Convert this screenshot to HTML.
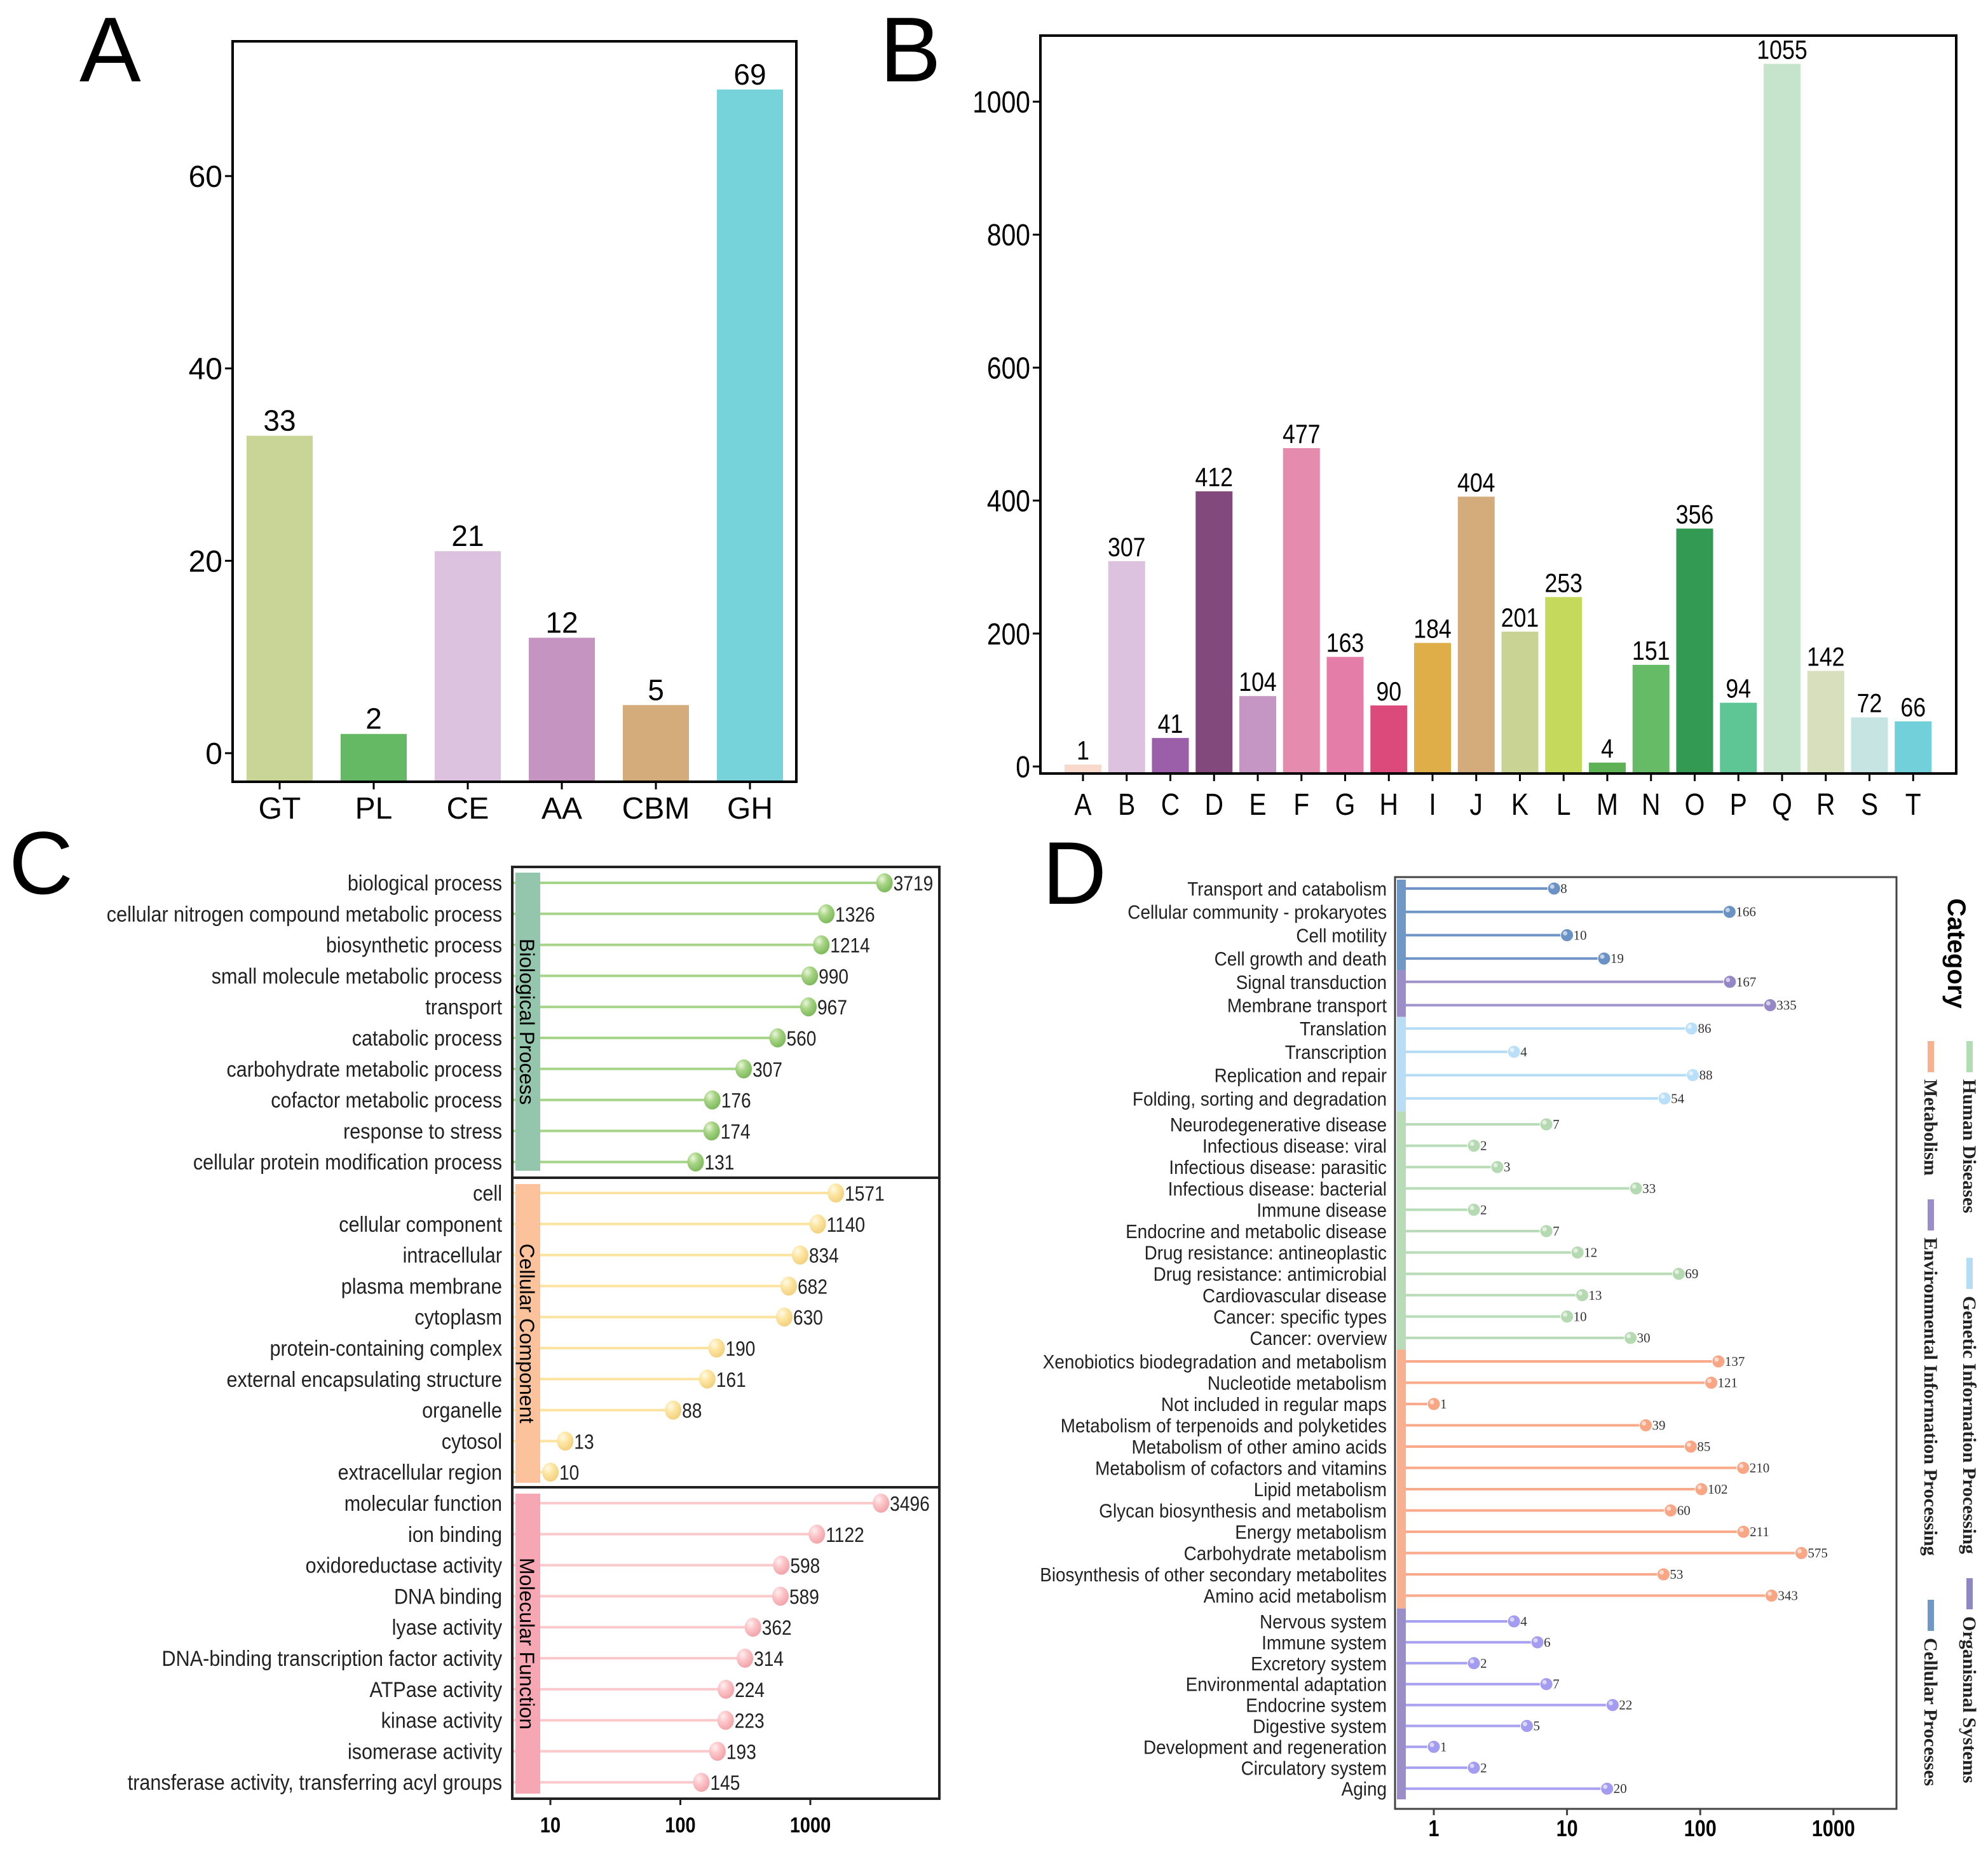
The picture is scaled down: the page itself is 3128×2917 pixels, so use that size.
<!DOCTYPE html>
<html><head><meta charset="utf-8"><style>
html,body{margin:0;padding:0;background:#fff;}
svg{display:block;}
</style></head><body>
<svg id="fig" xmlns="http://www.w3.org/2000/svg" width="3128" height="2917" viewBox="0 0 3128 2917">
<defs>
<radialGradient id="gBP" cx="35%" cy="30%" r="70%"><stop offset="0" stop-color="#eaf6dc"/><stop offset="0.45" stop-color="#a8d585"/><stop offset="1" stop-color="#7fba5e"/></radialGradient>
<radialGradient id="gCC" cx="35%" cy="30%" r="70%"><stop offset="0" stop-color="#fffbe8"/><stop offset="0.45" stop-color="#fde6a3"/><stop offset="1" stop-color="#f3d180"/></radialGradient>
<radialGradient id="gMF" cx="35%" cy="30%" r="70%"><stop offset="0" stop-color="#fff0f1"/><stop offset="0.45" stop-color="#fcc6c9"/><stop offset="1" stop-color="#f2a5aa"/></radialGradient>
</defs>
<text x="125" y="128" font-family="Liberation Sans, sans-serif" font-size="145">A</text>
<text x="1384" y="128" font-family="Liberation Sans, sans-serif" font-size="145">B</text>
<text x="14" y="1406" font-family="Liberation Sans, sans-serif" font-size="140">C</text>
<text x="1640" y="1422" font-family="Liberation Sans, sans-serif" font-size="140">D</text>
<g id="pA"></g>
<g id="pB"></g>
<g id="pC"></g>
<g id="pD"></g>
</svg>
<script>
// ---- Panel A data ----
const aCats = ["GT","PL","CE","AA","CBM","GH"];
const aVals = [33,2,21,12,5,69];
const aTicks = [0,20,40,60];
const aColors = ["#c8d596","#66b964","#dcc2de","#c594c0","#d4ab7b","#75d3d9"];
// ---- Panel B data ----
const bCats = ["A","B","C","D","E","F","G","H","I","J","K","L","M","N","O","P","Q","R","S","T"];
const bVals = [1,307,41,412,104,477,163,90,184,404,201,253,4,151,356,94,1055,142,72,66];
const bTicks = [0,200,400,600,800,1000];
const bColors = ["#f8d9cc","#dcc2de","#9b5ea8","#82497c","#c595c4","#e58bae","#e47ea8","#dc4a7b","#dfae48","#d4ab7b","#c9d494","#c5da5c","#5fb155","#66bb66","#339a53","#5ec595","#c5e4cb","#d8dfbc","#c6e4e1","#71d0d9"];
// ---- Panel C data ----
const cBP = ["biological process","cellular nitrogen compound metabolic process","biosynthetic process","small molecule metabolic process","transport","catabolic process","carbohydrate metabolic process","cofactor metabolic process","response to stress","cellular protein modification process"];
const cBPv = [3719,1326,1214,990,967,560,307,176,174,131];
const cCC = ["cell","cellular component","intracellular","plasma membrane","cytoplasm","protein-containing complex","external encapsulating structure","organelle","cytosol","extracellular region"];
const cCCv = [1571,1140,834,682,630,190,161,88,13,10];
const cMF = ["molecular function","ion binding","oxidoreductase activity","DNA binding","lyase activity","DNA-binding transcription factor activity","ATPase activity","kinase activity","isomerase activity","transferase activity, transferring acyl groups"];
const cMFv = [3496,1122,598,589,362,314,224,223,193,145];
const cTicks = [10,100,1000];
// ---- Panel D data ----
const dLabels = ["Transport and catabolism","Cellular community - prokaryotes","Cell motility","Cell growth and death","Signal transduction","Membrane transport","Translation","Transcription","Replication and repair","Folding, sorting and degradation",
"Neurodegenerative disease","Infectious disease: viral","Infectious disease: parasitic","Infectious disease: bacterial","Immune disease","Endocrine and metabolic disease","Drug resistance: antineoplastic","Drug resistance: antimicrobial","Cardiovascular disease","Cancer: specific types","Cancer: overview",
"Xenobiotics biodegradation and metabolism","Nucleotide metabolism","Not included in regular maps","Metabolism of terpenoids and polyketides","Metabolism of other amino acids","Metabolism of cofactors and vitamins","Lipid metabolism","Glycan biosynthesis and metabolism","Energy metabolism","Carbohydrate metabolism","Biosynthesis of other secondary metabolites","Amino acid metabolism",
"Nervous system","Immune system","Excretory system","Environmental adaptation","Endocrine system","Digestive system","Development and regeneration","Circulatory system","Aging"];
const dVals = [8,166,10,19,167,335,86,4,88,54, 7,2,3,33,2,7,12,69,13,10,30, 137,121,1,39,85,210,102,60,211,575,53,343, 4,6,2,7,22,5,1,2,20];
const dCat = ["CP","CP","CP","CP","EIP","EIP","GIP","GIP","GIP","GIP","HD","HD","HD","HD","HD","HD","HD","HD","HD","HD","HD","M","M","M","M","M","M","M","M","M","M","M","M","OS","OS","OS","OS","OS","OS","OS","OS","OS"];
const dTicks = [1,10,100,1000];

const NS="http://www.w3.org/2000/svg";
function mk(parent,tag,attrs,txt){const e=document.createElementNS(NS,tag);for(const k in attrs)e.setAttribute(k,attrs[k]);if(txt!==undefined)e.textContent=txt;parent.appendChild(e);return e;}
const SANS="Liberation Sans, DejaVu Sans, sans-serif";
const SERIF="Liberation Serif, DejaVu Serif, serif";

// ================= Panel A =================
(function(){
 const g=document.getElementById('pA');
 const L=366,T=65,R=1253,B=1230, y0=1185, ppu=(1185-277)/60;
 const y=v=>y0-v*ppu, x=i=>440+i*148, bw=104;
 aVals.forEach((v,i)=>{
  const r=mk(g,'rect',{x:x(i)-bw/2,y:y(v),width:bw,height:B-y(v),fill:aColors[i]});
  
  
  const t=mk(g,'text',{x:x(i),y:y(v)-8,'text-anchor':'middle','font-family':SANS,'font-size':46},String(v));
  
  
  const xl=mk(g,'text',{x:x(i),y:1288,'text-anchor':'middle','font-family':SANS,'font-size':48},aCats[i]);
  
  
  mk(g,'line',{x1:x(i),x2:x(i),y1:B,y2:B+12,stroke:'#000','stroke-width':3});
 });
 aTicks.forEach(v=>{
  mk(g,'line',{x1:L-12,x2:L,y1:y(v),y2:y(v),stroke:'#000','stroke-width':3});
  const t=mk(g,'text',{x:L-16,y:y(v)+17,'text-anchor':'end','font-family':SANS,'font-size':48},String(v));
  
  
 });
 const f=mk(g,'rect',{x:L,y:T,width:R-L,height:B-T,fill:'none',stroke:'#000','stroke-width':4});
 
 
})();

// ================= Panel B =================
(function(){
 const g=document.getElementById('pB');
 const L=1637,T=56,R=3078,B=1217,y0=1206,ppu=(1206-160)/1000;
 const y=v=>y0-v*ppu, x=i=>1704+i*68.75, bw=58;
 bVals.forEach((v,i)=>{
  const r=mk(g,'rect',{x:x(i)-bw/2,y:y(v)-2,width:bw,height:B-y(v)+2,fill:bColors[i]});
  
  
  const t=mk(g,'text',{transform:`translate(${x(i)},${y(v)-10}) scale(0.85,1)`,'text-anchor':'middle','font-family':SANS,'font-size':42},String(v));
  
  
  mk(g,'line',{x1:x(i),x2:x(i),y1:B,y2:B+12,stroke:'#000','stroke-width':3});
  const xl=mk(g,'text',{transform:`translate(${x(i)},1282) scale(0.85,1)`,'text-anchor':'middle','font-family':SANS,'font-size':48},bCats[i]);
  
  
 });
 bTicks.forEach(v=>{
  mk(g,'line',{x1:L-12,x2:L,y1:y(v),y2:y(v),stroke:'#000','stroke-width':3});
  const t=mk(g,'text',{transform:`translate(${L-16},${y(v)+17}) scale(0.85,1)`,'text-anchor':'end','font-family':SANS,'font-size':48},String(v));
  
  
 });
 const f=mk(g,'rect',{x:L,y:T,width:R-L,height:B-T,fill:'none',stroke:'#000','stroke-width':4});
 
 
})();

// ================= Panel C =================
(function(){
 const g=document.getElementById('pC');
 const L=806,T=1364,R=1478,B=2830;
 const x=v=>866+204.5*Math.log10(v/10);
 const row0=1389, step=48.8;
 const groups=[
  {labels:cBP,vals:cBPv,line:'#a6d58a',grad:'url(#gBP)',strip:'#93c6ad',name:'Biological Process',st:1373,en:1842},
  {labels:cCC,vals:cCCv,line:'#fde3a0',grad:'url(#gCC)',strip:'#fcc29c',name:'Cellular Component',st:1863,en:2333},
  {labels:cMF,vals:cMFv,line:'#fbc9cb',grad:'url(#gMF)',strip:'#f7a7b3',name:'Molecular Function',st:2350,en:2822}];
 let idx=0;
 groups.forEach((gr,gi)=>{
  gr.labels.forEach((lab,i)=>{
   const yy=row0+idx*step; const v=gr.vals[i];
   mk(g,'line',{x1:850,x2:x(v),y1:yy,y2:yy,stroke:gr.line,'stroke-width':4});
   mk(g,'line',{x1:L,x2:812,y1:yy,y2:yy,stroke:gr.line,'stroke-width':4});
   const c=mk(g,'ellipse',{cx:x(v),cy:yy,rx:13,ry:15,fill:gr.grad});
   
   
   const vt=mk(g,'text',{transform:`translate(${x(v)+14},${yy+12}) scale(0.88,1)`,'font-family':SANS,'font-size':32,fill:'#222'},String(v));
   
   
   const lt=mk(g,'text',{transform:`translate(790,${yy+12}) scale(0.9,1)`,'text-anchor':'end','font-family':SANS,'font-size':34,fill:'#222'},lab);
   
   
   idx++;
  });
  const s=mk(g,'rect',{x:811,y:gr.st,width:39,height:gr.en-gr.st,fill:gr.strip});
  
  
  const cy=(gr.st+gr.en)/2;
  const st=mk(g,'text',{transform:`translate(818,${cy}) rotate(90)`,'text-anchor':'middle','font-family':SANS,'font-size':32},gr.name);
  
  
 });
 mk(g,'line',{x1:L,x2:R,y1:1853,y2:1853,stroke:'#222','stroke-width':4});
 mk(g,'line',{x1:L,x2:R,y1:2340,y2:2340,stroke:'#222','stroke-width':4});
 const f=mk(g,'rect',{x:L,y:T,width:R-L,height:B-T,fill:'none',stroke:'#222','stroke-width':4});
 
 
 cTicks.forEach(v=>{
  mk(g,'line',{x1:x(v),x2:x(v),y1:B,y2:B+10,stroke:'#222','stroke-width':3});
  const t=mk(g,'text',{transform:`translate(${x(v)},2883) scale(0.85,1)`,'text-anchor':'middle','font-family':SANS,'font-size':34,'font-weight':'bold'},String(v));
  
  
 });
})();

// ================= Panel D =================
(function(){
 const g=document.getElementById('pD');
 const L=2195,T=1380,R=2984,B=2846;
 const x=v=>2256+209.6*Math.log10(v);
 const catStyle={CP:{line:'#6f95c6',ball:'#6a92c4',strip:'#6f98c6'},EIP:{line:'#a093cc',ball:'#9586c6',strip:'#9b8ec8'},GIP:{line:'#b5dcf5',ball:'#b9e0f8',strip:'#b9ddf5'},HD:{line:'#b8dcb8',ball:'#b5d9b0',strip:'#b8dcb8'},M:{line:'#f9aa8a',ball:'#f9a685',strip:'#f9b08f'},OS:{line:'#a8a0f0',ball:'#a39cf0',strip:'#9b8ec8'}};
 const segs=[[0,1398,36.7],[10,1769,33.6],[21,2142,33.5],[33,2551,32.9]];
 const ypos=i=>{let s=segs[0];segs.forEach(q=>{if(i>=q[0])s=q;});return s[1]+(i-s[0])*s[2];};
 let start=0;
 for(let i=1;i<=dCat.length;i++){
  if(i===dCat.length||dCat[i]!==dCat[start]){
   const y1=start===0?1384:(ypos(start-1)+ypos(start))/2;
   const y2=i===dCat.length?2831:(ypos(i-1)+ypos(i))/2;
   const s=mk(g,'rect',{x:2198,y:y1,width:14,height:y2-y1,fill:catStyle[dCat[start]].strip});
   
   
   start=i;
  }
 }
 dVals.forEach((v,i)=>{
  const yy=ypos(i), st=catStyle[dCat[i]];
  mk(g,'line',{x1:2212,x2:x(v),y1:yy,y2:yy,stroke:st.line,'stroke-width':4});
  const c=mk(g,'circle',{cx:x(v),cy:yy,r:10,fill:st.ball,stroke:'#fff','stroke-width':1});
  
  
  mk(g,'circle',{cx:x(v)-3,cy:yy-3,r:3.5,fill:'#fff','fill-opacity':0.6});
  const vt=mk(g,'text',{x:x(v)+10,y:yy+7,'font-family':SERIF,'font-size':21,fill:'#333'},String(v));
  
  
  const lt=mk(g,'text',{transform:`translate(2182,${yy+11}) scale(0.9,1)`,'text-anchor':'end','font-family':SANS,'font-size':31,fill:'#222'},dLabels[i]);
  
  
 });
 const f=mk(g,'rect',{x:L,y:T,width:R-L,height:B-T,fill:'none',stroke:'#444','stroke-width':3});
 
 
 dTicks.forEach(v=>{
  mk(g,'line',{x1:x(v),x2:x(v),y1:B,y2:B+10,stroke:'#444','stroke-width':3});
  const t=mk(g,'text',{transform:`translate(${x(v)},2889) scale(0.85,1)`,'text-anchor':'middle','font-family':SANS,'font-size':36,'font-weight':'bold'},String(v));
  
  
 });
 const lg=mk(g,'g',{});
 
 
 const ct=mk(lg,'text',{transform:'translate(3065,1500) rotate(90)','text-anchor':'middle','font-family':SANS,'font-size':40,'font-weight':'bold'},'Category');
 
 
 const entries=[
  {t:'Human Diseases',c:'#b2dcb4',x:3099,y:1638},
  {t:'Genetic Information Processing',c:'#b5dcf5',x:3099,y:1979},
  {t:'Organismal Systems',c:'#8f86c4',x:3099,y:2483},
  {t:'Metabolism',c:'#f9b08f',x:3038,y:1638},
  {t:'Environmental Information Processing',c:'#9b8ec8',x:3038,y:1887},
  {t:'Cellular Processes',c:'#6f98c6',x:3038,y:2517}];
 entries.forEach(e=>{
  const r=mk(lg,'rect',{x:e.x-5,y:e.y,width:10,height:49,fill:e.c});
  
  
  const t=mk(lg,'text',{transform:`translate(${e.x-10},${e.y+60}) rotate(90)`,'font-family':SERIF,'font-size':30,'font-weight':'bold',fill:'#222'},e.t);
  
  
 });
})();
</script>
</body></html>
